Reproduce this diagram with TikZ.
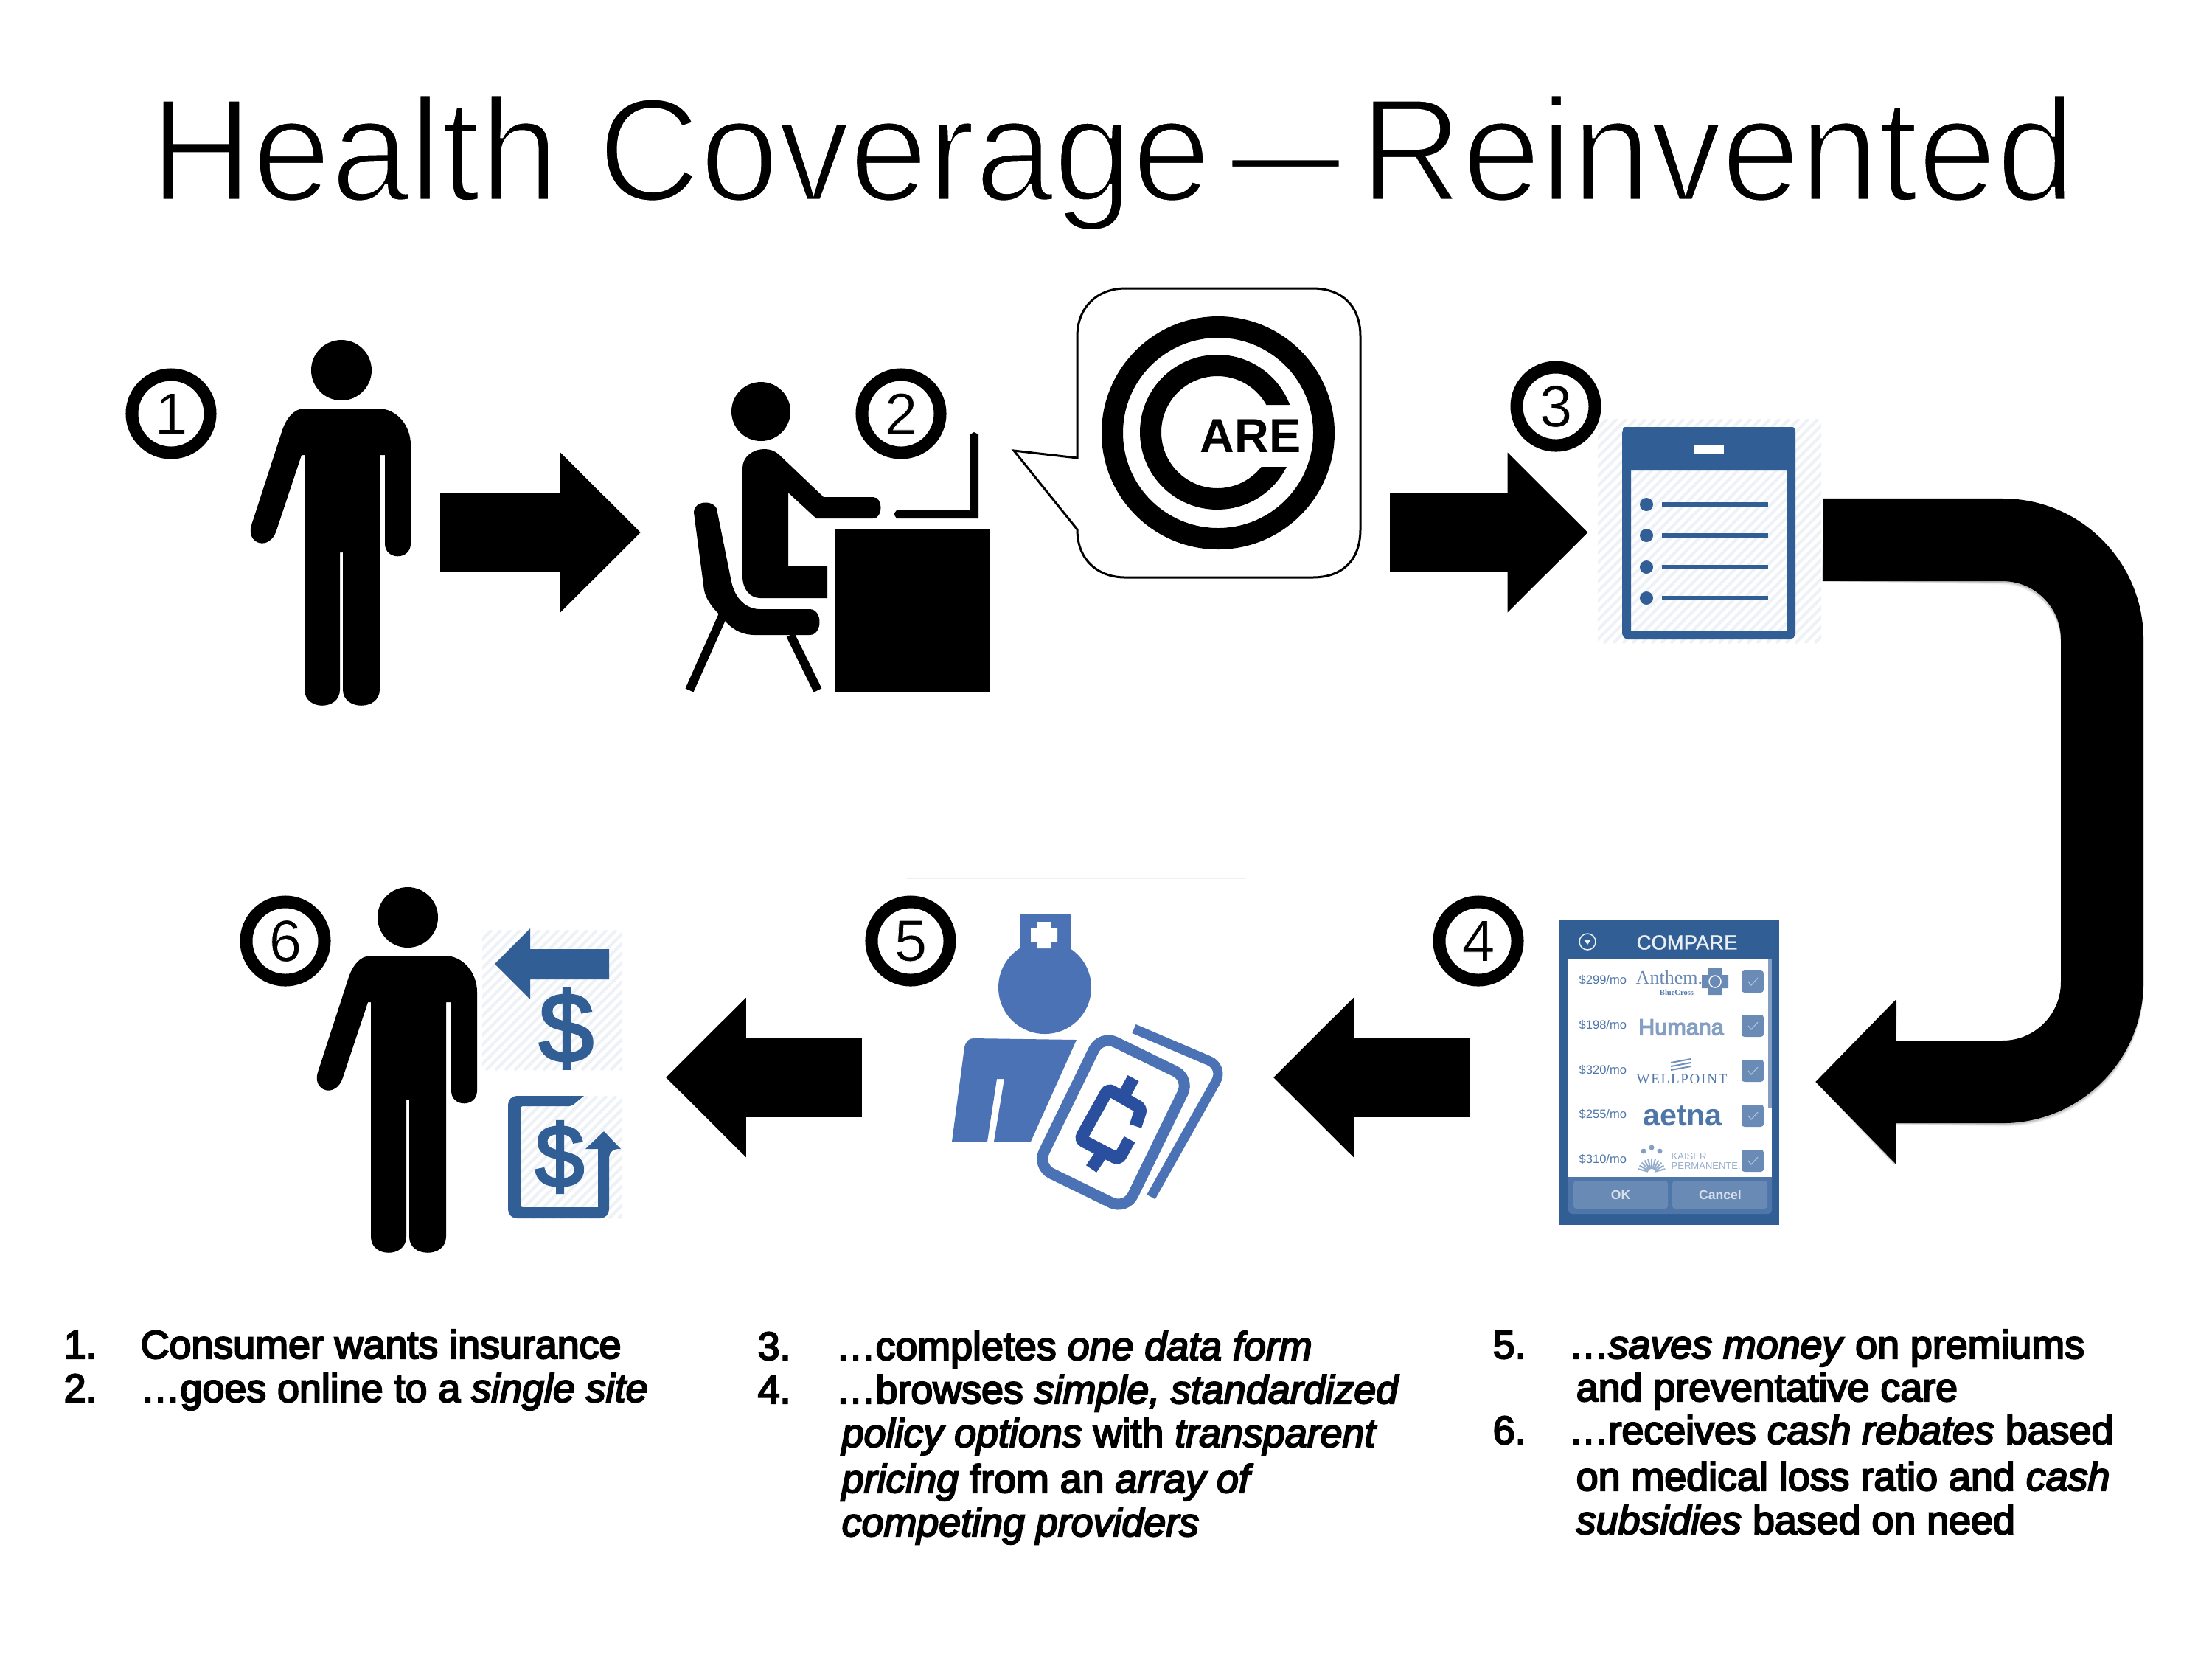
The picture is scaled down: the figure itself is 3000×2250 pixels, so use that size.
\documentclass[tikz,border=0pt]{standalone}
\usepackage{fontspec}
\usepackage{graphicx}
\setmainfont{Liberation Sans}
\newfontfamily\serifpart{Liberation Serif}
\usetikzlibrary{arrows.meta}
\definecolor{formblue}{HTML}{315F95}
\definecolor{docblue}{HTML}{4A72B5}
\definecolor{centblue}{HTML}{2A4F9F}
\definecolor{comparelight}{HTML}{4F76A8}
\definecolor{hatchgrey}{HTML}{EEF1F6}
\newcommand{\outlinetext}[2]{\special{pdf:code 2 Tr #1 RG #2 w}}
\newcommand{\hatchbox}[4]{%
    \begin{scope}
        \clip (#1,#2) rectangle (#3,#4);
        \pgfmathsetmacro{\hatchh}{#4-#2}
        \pgfmathsetmacro{\hatchfrom}{#1-\hatchh}
        \pgfmathsetmacro{\hatchnext}{\hatchfrom+13}
        \foreach \s in {\hatchfrom,\hatchnext,...,#3}
            \draw[hatchgrey,line width=0.04cm] (\s,#4) -- ++(\hatchh,-\hatchh);
    \end{scope}}
\tikzset{
    person/.pic={
        \fill (0,0) circle [radius=41];
        \fill (-50,52) -- (50,52) .. controls (75,52) and (94,75) .. (94,101) -- (94,235)
            .. controls (94,258) and (59,258) .. (59,235) -- (59,115) -- (52,115) -- (52,433)
            .. controls (52,462) and (2,462) .. (2,433) -- (2,247) -- (-2,247) -- (-2,433)
            .. controls (-2,462) and (-50,462) .. (-50,433) -- (-50,115) -- (-54,115) -- (-88,217)
            .. controls (-97,246) and (-130,236) .. (-122,210) -- (-82,87)
            .. controls (-76,66) and (-65,52) .. (-50,52) -- cycle;
    },
}
\begin{document}
\begin{tikzpicture}[
        x=0.01cm, y=-0.01cm,
        iconbox/.style={rectangle,inner sep=0,minimum height=5cm},
        badge/.style={circle,draw,line width=0.17cm,fill=white,inner sep=0,minimum size=1.06cm,font=\fontsize{22.7}{24}\selectfont\outlinetext{1 1 1}{0.2}},
        blockarrow/.style={line width=1.07cm,-{Triangle[length=1.09cm,width=2.1cm]}},
        bigarrow/.style={line width=1.12cm,rounded corners=1.35cm,-{Triangle[length=1.09cm,width=2.16cm]}},
        bodyline/.style={anchor=base west,inner sep=0,font=\fontsize{15.3}{18}\selectfont\outlinetext{0 0 0}{0.6}},
        price/.style={anchor=west,inner sep=0,text=comparelight,font=\fontsize{4.7}{5}\selectfont},
        tickbox/.style={rectangle,fill=comparelight!85!white,rounded corners=0.04cm,minimum size=0.3cm,inner sep=0},
        ]
        \useasboundingbox (0,0) rectangle (3000,2250);
        \fill[white] (0,0) rectangle (3000,2250);

        \node[anchor=base west,inner sep=0,font=\fontsize{56.5}{60}\selectfont\outlinetext{1 1 1}{1.3}](title) at (203,272){\scalebox{0.965}[1]{Health Coverage\kern8pt\scalebox{0.77}[1]{—}\kern8pt\outlinetext{1 1 1}{1.3}Reinvented}};

        % boxes the connectors run between
        \node[iconbox,minimum width=2.6cm](person1) at (466,722){};
        \node[iconbox,minimum width=10.14cm](worker) at (1377,722){};
        \node[iconbox,minimum width=3.17cm](form) at (2313,722){};
        \node[iconbox,minimum width=4.68cm](compare) at (2228,1461){};
        \node[iconbox,minimum width=5.56cm](doctor) at (1448,1461){};
        \node[iconbox,minimum width=6cm](person6) at (602,1461){};
        \coordinate (bigstart) at (2472,732);
        \coordinate (bigtip) at (2462,1467);

        \draw[blockarrow] (person1.east) -- (worker.west);
        \draw[blockarrow] (worker.east) -- (form.west);
        \foreach \d/\o in {7/0.05,5/0.08,3/0.12}
            \draw[bigarrow,opacity=\o,yshift=-\d*0.01cm] (bigstart) -- (2851,732) -- (2851,1467) -- (bigtip);
        \draw[bigarrow] (bigstart) -- (2851,732) -- (2851,1467) -- (bigtip);
        \draw[blockarrow] (compare.west) -- (doctor.east);
        \draw[blockarrow] (doctor.west) -- (person6.east);

        % step 1
        \pic at (463,502) {person};

        % step 2
        \fill (1032,558) circle [radius=40];
        \fill (1037,609) .. controls (1020,609) and (1007,620) .. (1007,635) -- (1007,781)
            .. controls (1007,800) and (1018,811) .. (1031,811) -- (1122,811) -- (1122,767) -- (1069,767)
            -- (1069,668) -- (1107,703) -- (1184,703) .. controls (1198,703) and (1198,674) .. (1184,674)
            -- (1117,674) -- (1056,616) .. controls (1050,611) and (1044,609) .. (1037,609) -- cycle;
        \fill (1216,692) -- (1316,692) -- (1316,589) -- (1321,586) -- (1327,589) -- (1327,703) -- (1216,703) -- (1212,697) -- cycle;
        \fill (1133,717) rectangle (1343,938);
        \fill (941,695) .. controls (941,677) and (973,677) .. (973,695) -- (992,789)
            .. controls (997,812) and (1012,826) .. (1031,826) -- (1098,826)
            .. controls (1116,826) and (1116,861) .. (1098,861) -- (1024,861)
            .. controls (1008,861) and (996,855) .. (986,845) -- (967,824) .. controls (958,812) and (955,805) .. (954,793) -- cycle;
        \draw[line width=0.12cm] (980,835) -- (935,936);
        \draw[line width=0.12cm] (1072,861) -- (1109,936);

        % speech bubble with the logo
        \draw[line width=0.03cm,fill=white] (1461,621) -- (1375,611) -- (1461,718)
            .. controls (1461,760) and (1490,783) .. (1526,783) -- (1780,783)
            .. controls (1820,783) and (1845,760) .. (1845,718) -- (1845,456)
            .. controls (1845,415) and (1820,391) .. (1780,391) -- (1526,391)
            .. controls (1490,391) and (1461,415) .. (1461,456) -- cycle;
        \fill[even odd rule] (1652,587) circle [radius=158] (1652,587) circle [radius=129];
        \begin{scope}
            \clip (1400,300) rectangle (2000,549) (1400,633) rectangle (2000,900) (1400,549) rectangle (1652,633);
            \fill[even odd rule] (1651,586) circle [radius=105] (1651,586) circle [radius=76];
        \end{scope}
        \node[inner sep=0,font=\fontsize{18.4}{20}\selectfont\bfseries](care) at (1696,591){ARE};

        % step 3
        \hatchbox{2167}{568}{2470}{872}
        \draw[formblue,line width=0.12cm,rounded corners=0.03cm] (2206,585) rectangle (2429,861);
        \fill[formblue,rounded corners=0.03cm] (2201,579) rectangle (2434,638);
        \fill[white] (2297,604) rectangle (2338,615);
        \foreach \y in {684,726,769,811}{
            \fill[formblue] (2233,\y) circle [radius=9];
            \fill[formblue] (2254,\y-3) rectangle (2398,\y+3);
        }

        % step 4
        \fill[formblue] (2115,1248) rectangle (2413,1661);
        \fill[comparelight,rounded corners=0.05cm] (2127,1250) rectangle (2403,1646);
        \fill[formblue] (2127,1250) rectangle (2403,1300);
        \fill[white] (2127,1300) rectangle (2403,1596);
        \fill[comparelight!70!white] (2398,1300) rectangle (2403,1503);
        \fill[comparelight!85!white,rounded corners=0.04cm] (2134,1601) rectangle (2262,1639);
        \fill[comparelight!85!white,rounded corners=0.04cm] (2268,1601) rectangle (2397,1639);
        \node[inner sep=0,text=white!90!formblue,font=\fontsize{7.8}{9}\selectfont\outlinetext{0.19 0.37 0.58}{0.1}](comparetitle) at (2288,1278){COMPARE};
        \draw[white!90!formblue,line width=0.015cm] (2153,1277) circle [radius=11];
        \fill[white!90!formblue] (2148,1274) -- (2158,1274) -- (2153,1281) -- cycle;
        \node[inner sep=0,text=white!80!formblue,font=\fontsize{5}{6}\selectfont\bfseries](okbtn) at (2198,1620){OK};
        \node[inner sep=0,text=white!80!formblue,font=\fontsize{5}{6}\selectfont\bfseries](cancelbtn) at (2333,1620){Cancel};
        \foreach \y/\p in {1329/299,1390/198,1451/320,1511/255,1572/310}{
            \node[price] at (2141,\y) {\$\p/mo};
        }
        \foreach \y in {1331,1391,1452,1513,1574}{
            \node[tickbox] at (2377,\y) {};
            \draw[comparelight!45!white,line width=0.012cm] (2371,\y) -- (2375,\y+5) -- (2384,\y-5);
        }
        \node[inner sep=0,anchor=west,text=comparelight!85!white,font=\fontsize{7.4}{8}\selectfont\serifpart](anthem) at (2218,1326){Anthem.};
        \node[inner sep=0,text=comparelight,font=\fontsize{3}{4}\selectfont\serifpart\bfseries](bluecross) at (2274,1346){BlueCross};
        \fill[comparelight!85!white] (2317,1313) rectangle (2335,1349) (2308,1322) rectangle (2344,1340);
        \draw[white,line width=0.015cm] (2326,1331) circle [radius=8];
        \node[inner sep=0,text=comparelight!70!white,font=\fontsize{8.7}{9}\selectfont\outlinetext{0.52 0.65 0.8}{0.35}](humana) at (2280,1393){Humana};
        \node[inner sep=0,text=comparelight,font=\fontsize{5.4}{6}\selectfont\serifpart](wellpoint) at (2281,1463){W\kern0.5pt E\kern0.5pt L\kern0.5pt L\kern0.5pt P\kern0.5pt O\kern0.5pt I\kern0.5pt N\kern0.5pt T};
        \foreach \d in {0,5,10}
            \draw[comparelight!80!white,line width=0.02cm] (2266,1441+\d) -- (2293,1436+\d);
        \node[inner sep=0,text=comparelight,font=\fontsize{11.7}{12}\selectfont\bfseries](aetna) at (2282,1513){aetna};
        \foreach \x/\h in {2229/1561,2240/1556,2251/1561}
            \fill[comparelight!70!white] (\x,\h) circle [radius=3.5];
        \foreach \a in {-165,-150,...,-15}
            \draw[comparelight!60!white,line width=0.02cm] ([shift={(2240,1590)}]\a:5) -- ([shift={(2240,1590)}]\a:19);
        \node[inner sep=0,anchor=base west,text=comparelight!60!white,font=\fontsize{3.7}{4}\selectfont](kaiser) at (2266,1572){KAISER};
        \node[inner sep=0,anchor=base west,text=comparelight!60!white,font=\fontsize{3.7}{4}\selectfont](permanente) at (2266,1585){PERMANENTE.};

        % step 5
        \draw[black!6,line width=0.02cm] (1230,1191) -- (1690,1191);
        \fill[docblue,rounded corners=0.02cm] (1383,1239) rectangle (1452,1300);
        \fill[docblue] (1417,1339) circle [radius=63];
        \fill[white] (1407,1250) rectangle (1425,1286) (1398,1259) rectangle (1434,1277);
        \fill[docblue] (1460,1410) -- (1320,1408) .. controls (1314,1408) and (1310,1412) .. (1308,1420)
            -- (1291,1548) -- (1339,1548) -- (1352,1463) -- (1362,1463) -- (1348,1548) -- (1398,1548) -- cycle;
        \draw[docblue,line width=0.13cm,rounded corners=0.22cm] (1538,1395) -- (1660,1447) -- (1561,1623);
        \node[draw=docblue,fill=white,line width=0.15cm,rounded corners=0.22cm,rotate=-26,minimum width=1.34cm,minimum height=1.98cm,inner sep=0](card) at (1510,1522){};
        \draw[centblue,line width=0.17cm,rounded corners=0.06cm] (1540,1527) -- (1548,1503) -- (1503,1477) -- (1465,1545) -- (1517,1572) -- (1532,1545);
        \draw[centblue,line width=0.17cm] (1537,1462) -- (1523,1488);
        \draw[centblue,line width=0.17cm] (1495,1563) -- (1480,1585);

        % step 6
        \pic at (553,1244) {person};
        \hatchbox{654}{1261}{843}{1451}
        \hatchbox{706}{1486}{843}{1652}
        \fill[formblue] (671,1307) -- (719,1259) -- (719,1287) -- (826,1287) -- (826,1328) -- (719,1328) -- (719,1355) -- cycle;
        \node[inner sep=0,text=formblue,font=\fontsize{38}{40}\selectfont\outlinetext{0.19 0.37 0.58}{1}](dollartop) at (768,1395){\$};
        \fill[formblue,rounded corners=0.12cm] (792,1486) -- (689,1486) -- (689,1652) -- (826,1652)
            -- (826,1558) [sharp corners] -- (842,1558) -- (819,1534) -- (794,1558) -- (811,1558)
            -- (811,1637) [rounded corners=0.03cm] -- (706,1637) -- (706,1500) -- (775,1500) [sharp corners] -- cycle;
        \node[inner sep=0,text=formblue,font=\fontsize{34}{35}\selectfont\outlinetext{0.19 0.37 0.58}{1}](dollarbottom) at (759,1569){\$};

        % number badges
        \node[badge](n1) at (232,561){1};
        \node[badge](n2) at (1222,561){2};
        \node[badge](n3) at (2110,551){3};
        \node[badge](n4) at (2005,1276){4};
        \node[badge](n5) at (1235,1276){5};
        \node[badge](n6) at (387,1276){6};

        % text columns
        \node[bodyline](t1n) at (86,1842){1.};
        \node[bodyline](t1) at (190,1842){Consumer wants insurance};
        \node[bodyline](t2n) at (86,1901){2.};
        \node[bodyline](t2) at (190,1901){…goes online to a \textit{single site}};

        \node[bodyline](t3n) at (1027,1844){3.};
        \node[bodyline](t3) at (1133,1844){…completes \textit{one data form}};
        \node[bodyline](t4n) at (1027,1903){4.};
        \node[bodyline](t4) at (1133,1903){…browses \textit{simple, standardized}};
        \node[bodyline](t4b) at (1141,1962){\textit{policy options} with \textit{transparent}};
        \node[bodyline](t4c) at (1141,2024){\textit{pricing} from an \textit{array of}};
        \node[bodyline](t4d) at (1141,2083){\textit{competing providers}};

        \node[bodyline](t5n) at (2024,1842){5.};
        \node[bodyline](t5) at (2127,1842){…\textit{saves money} on premiums};
        \node[bodyline](t5b) at (2137,1900){and preventative care};
        \node[bodyline](t6n) at (2024,1958){6.};
        \node[bodyline](t6) at (2127,1958){…receives \textit{cash rebates} based};
        \node[bodyline](t6b) at (2137,2021){on medical loss ratio and \textit{cash}};
        \node[bodyline](t6c) at (2137,2080){\textit{subsidies} based on need};
        \end{tikzpicture}
\end{document}
